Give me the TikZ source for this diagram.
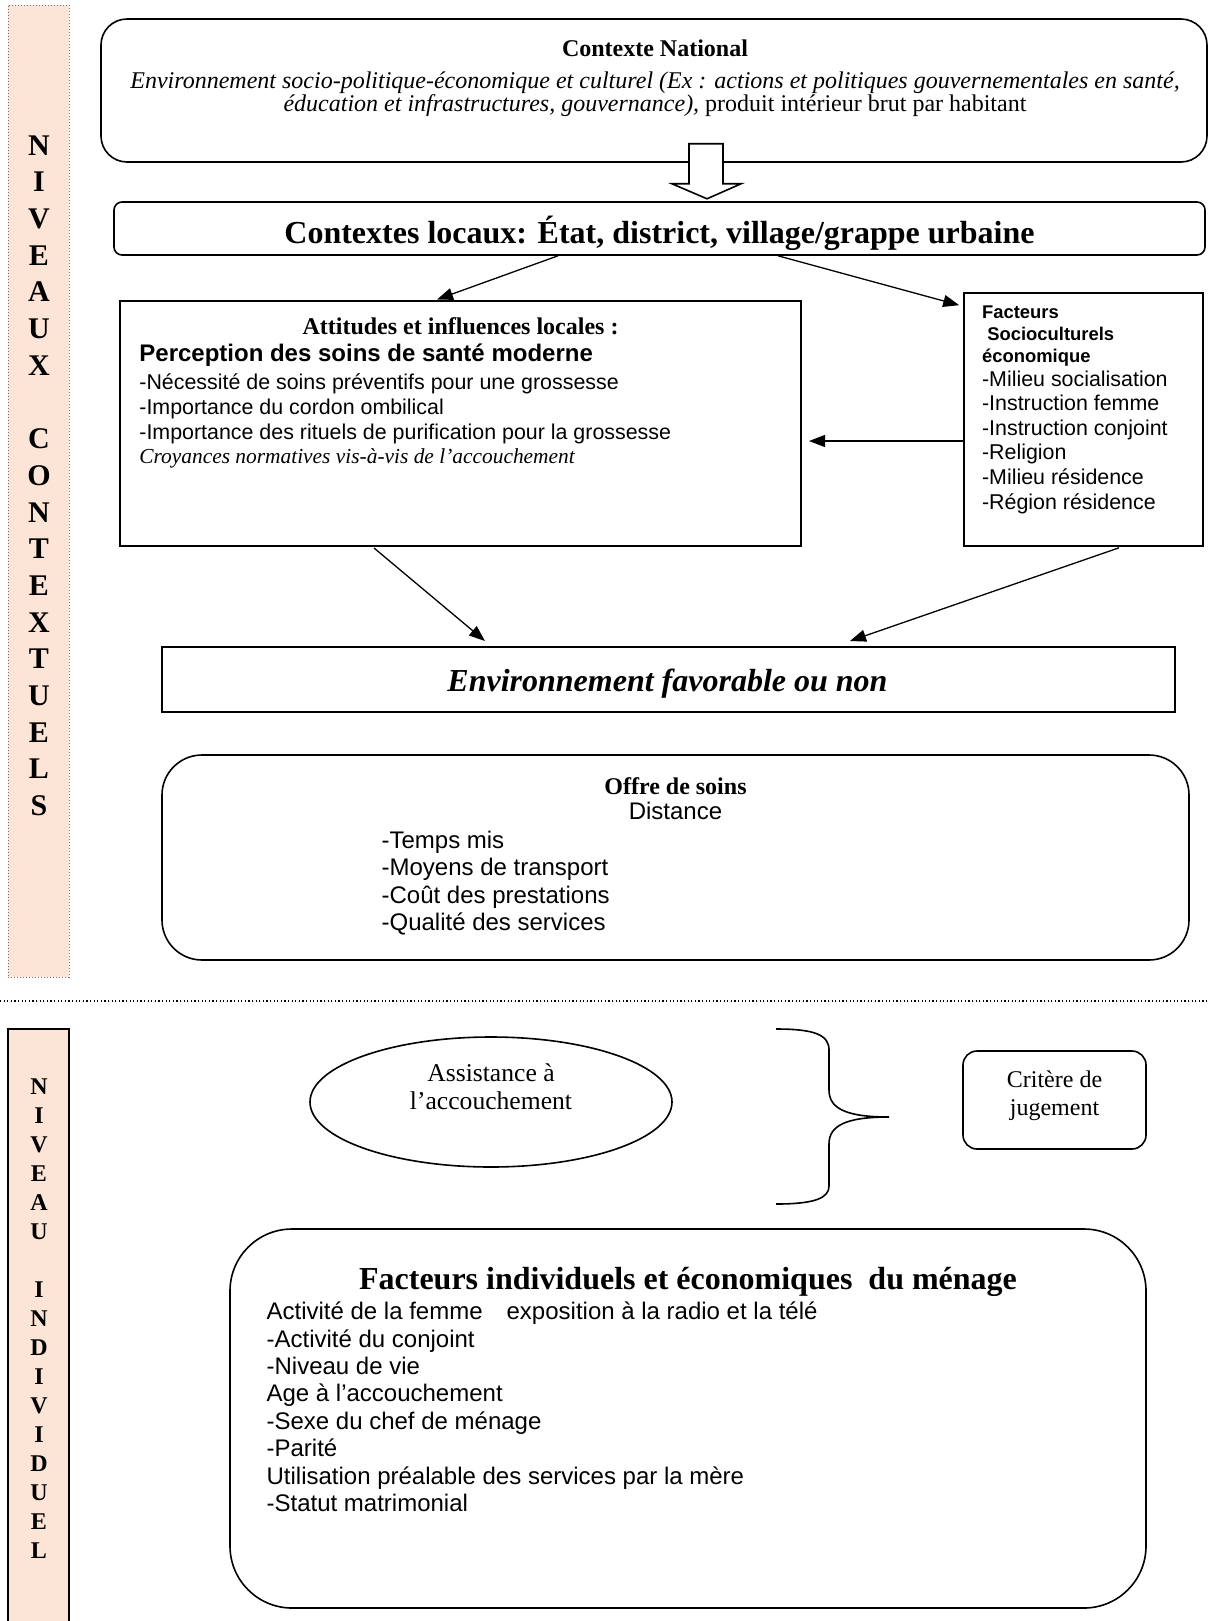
\documentclass[tikz,border=0pt]{standalone}
\usepackage{fontspec}
\setmainfont{Liberation Serif}
\setsansfont{Liberation Sans}
\usetikzlibrary{positioning, arrows.meta, shapes.geometric, calc}
\definecolor{peach}{RGB}{252,228,214}

\begin{document}
\begin{tikzpicture}[x=.5pt, y=-.5pt, inner sep=0pt,
        arr/.style={-{Triangle[length=8pt,width=6pt]}, line width=.65pt},
        sqbox/.style={draw, line width=1pt},
        rbox/.style={draw, line width=.8pt, rounded corners=#1},
        sidebar/.style={fill=peach, minimum width=30.5pt}]

        \useasboundingbox (0,0) rectangle (1209,1621);

        %SIDEBARS
        \node[sidebar, draw=black!55, dash pattern=on .5pt off 1pt, minimum height=486pt] (ctx) at (38.5,491) {};
        \node[anchor=north, align=center, font=\bfseries\fontsize{15}{18.35}\selectfont] (ctxT) at (39,135)
            {N\\I\\V\\E\\A\\U\\X\\[18.35pt]C\\O\\N\\T\\E\\X\\T\\U\\E\\L\\S};
        \node[sidebar, draw, line width=.9pt, minimum height=300pt] (ind) at (38.5,1329) {};
        \node[anchor=north, align=center, font=\bfseries\fontsize{12}{14.5}\selectfont] (indT) at (39,1078)
            {N\\I\\V\\E\\A\\U\\[14.5pt]I\\N\\D\\I\\V\\I\\D\\U\\E\\L};
        \draw[line width=.6pt, dash pattern=on .6pt off 1.2pt] (0,1001) -- (1209,1001);

        % CONTEXTE NATIONAL
        \node[rbox=13pt, minimum width=553pt, minimum height=71.5pt] (nat) at (654,90.5) {};
        \node[anchor=north, align=center, font=\fontsize{12}{11.9}\selectfont] (natT) at ($(nat.north)+(1,21)$)
            {\textbf{Contexte National}\\[4pt]
             \textit{Environnement socio-politique-économique et culturel (Ex : actions et politiques gouvernementales en santé,}\\
             \textit{éducation et infrastructures, gouvernance),} produit intérieur brut par habitant};
        \draw[fill=white, line width=.8pt] ($(nat.south)+(35,-19)$) -- ++(34,0) -- ++(0,40) -- ++(18,0)
            -- ++(-34,15) -- ++(-35,-15) -- ++(17,0) -- cycle;

        % CONTEXTES LOCAUX
        \node[rbox=4pt, minimum width=545.5pt, minimum height=26.5pt] (loc) at (659.5,228.5) {};
        \node[anchor=base, font=\bfseries\fontsize{16}{18}\selectfont] (locT) at ($(loc.south)+(0,-12)$)
            {Contextes locaux: État, district, village/grappe urbaine};

        % ATTITUDES
        \node[sqbox, minimum width=340.5pt, minimum height=122.5pt] (att) at (460.5,423.5) {};
        \node[anchor=base, font=\bfseries\fontsize{12}{13}\selectfont] (attH) at ($(att.north)+(0,34)$)
            {Attitudes et influences locales :};
        \node[anchor=north west, align=left, font=\sffamily\fontsize{10.7}{12.3}\selectfont] (attT) at ($(att.north west)+(20,43.5)$)
            {{\bfseries\fontsize{12}{14}\selectfont Perception des soins de santé moderne}\\[1.9pt]
             -Nécessité de soins préventifs pour une grossesse\\
             -Importance du cordon ombilical\\
             -Importance des rituels de purification pour la grossesse\\
             {\rmfamily\itshape Croyances normatives vis-à-vis de l’accouchement}};

        % FACTEURS SOCIOCULTURELS
        \node[sqbox, line width=.8pt, minimum width=119.5pt, minimum height=126.5pt] (fac) at (1083.5,419.5) {};
        \node[anchor=north west, align=left, font=\sffamily\bfseries\fontsize{9.2}{11}\selectfont] (facH) at ($(fac.north west)+(18.5,13)$)
            {Facteurs\\\hspace*{2.6pt}Socioculturels\\économique};
        \node[anchor=north west, align=left, font=\sffamily\fontsize{10.7}{12.3}\selectfont] (facT) at ($(fac.north west)+(18.5,78)$)
            {-Milieu socialisation\\-Instruction femme\\-Instruction conjoint\\-Religion\\-Milieu résidence\\-Région résidence};

        % ENVIRONNEMENT
        \node[sqbox, minimum width=506.5pt, minimum height=32.5pt] (env) at (668.5,679.5) {};
        \node[anchor=base, font=\bfseries\itshape\fontsize{16}{18}\selectfont] (envT) at ($(env.center)+(-1,12)$)
            {Environnement favorable ou non};

        %ARROWS
        \draw[arr] ($(loc.south)+(-101.5,0)$) -- ($(att.north)+(-23.5,-.5)$);
        \draw[arr] ($(loc.south)+(118.5,0)$) -- ($(fac.north west)+(-4,13)$);
        \draw[arr] ($(fac.west)+(0,21.5)$) -- ($(att.east)+(7,17.5)$);
        \draw[arr] ($(att.south)+(-86.5,1)$) -- ($(env.north)+(-183.5,-5)$);
        \draw[arr] ($(fac.south)+(35.5,1)$) -- ($(env.north)+(181.5,-5)$);

        % OFFRE DE SOINS
        \node[rbox=20pt, minimum width=513.5pt, minimum height=102.5pt] (off) at (675.5,857.5) {};
        \node[anchor=base, font=\bfseries\fontsize{12}{13.7}\selectfont] (offH) at ($(off.north)+(0,40)$) {Offre de soins};
        \node[anchor=base, font=\sffamily\fontsize{12}{13.7}\selectfont] (offD) at ($(off.north)+(0,65)$) {Distance};
        \node[anchor=north west, align=left, font=\sffamily\fontsize{12}{13.65}\selectfont] (offT) at ($(off.north west)+(220,76.5)$)
            {-Temps mis\\-Moyens de transport\\-Coût des prestations\\-Qualité des services};

        % NIVEAU INDIVIDUEL
        \node[ellipse, draw, line width=.8pt, minimum width=181pt, minimum height=65pt] (ell) at (491,1102) {};
        \node[anchor=north, align=center, font=\fontsize{12.8}{14}\selectfont] (ellT) at ($(ell.north)+(0,27)$)
            {Assistance à\\l’accouchement};
        \draw[line width=.8pt] (776,1029) .. controls (815,1029) and (829,1035) .. (829,1050) -- (829,1090)
            .. controls (829,1108) and (845,1117) .. (889,1117) .. controls (845,1117) and (829,1126) .. (829,1144)
            -- (829,1186) .. controls (829,1198) and (815,1204) .. (776,1204);
        \node[rbox=7pt, minimum width=91.5pt, minimum height=49pt] (crit) at (1054.5,1100) {};
        \node[anchor=north, align=center, font=\fontsize{12}{14}\selectfont] (critT) at ($(crit.north)+(0,20)$)
            {Critère de\\jugement};

        \node[rbox=31pt, minimum width=458pt, minimum height=189.5pt] (indiv) at (688,1418.5) {};
        \node[anchor=base, font=\bfseries\fontsize{16}{18}\selectfont] (indivH) at ($(indiv.north)+(0,61)$)
            {Facteurs individuels et économiques\ \ du ménage};
        \node[anchor=north west, align=left, font=\sffamily\fontsize{12}{13.7}\selectfont] (indivT) at ($(indiv.north west)+(37,73.5)$)
            {Activité de la femme\hspace*{12pt}exposition à la radio et la télé\\
             -Activité du conjoint\\
             -Niveau de vie\\
             Age à l’accouchement\\
             -Sexe du chef de ménage\\
             -Parité\\
             Utilisation préalable des services par la mère\\
             -Statut matrimonial};

    \end{tikzpicture}
\end{document}
